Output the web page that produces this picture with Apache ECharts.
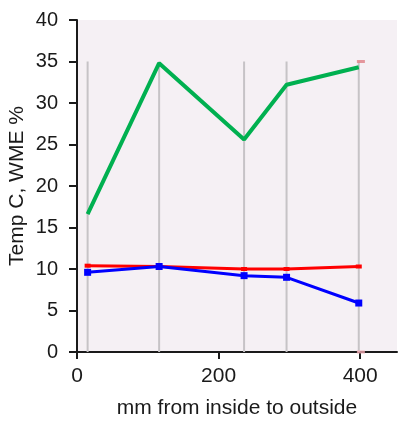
<!DOCTYPE html>
<html><head><meta charset="utf-8">
<script src="https://cdn.jsdelivr.net/npm/echarts@6/dist/echarts.min.js"></script>
<style>html,body{margin:0;padding:0;background:#fff}#c{width:399px;height:421px}</style>
</head><body><div id="c"></div>
<script>
const positions = [15, 116, 236, 296, 398];
const wme = [16.6, 34.8, 25.6, 32.2, 34.3];
const tempRed = [10.4, 10.3, 10.0, 10.0, 10.3];
const tempBlue = [9.6, 10.3, 9.2, 9.0, 5.9];
const dropTop = 35;
const endMarkX = 401;
const endMarks = [35, 0];
const xTicks = [0, 200, 400];

const chart = echarts.init(document.getElementById('c'));
const pairs = (ys) => positions.map((x, i) => [x, ys[i]]);
chart.setOption({
  animation: false,
  grid: { left: 77, top: 20, right: 2, bottom: 69, show: true, backgroundColor: '#f5f0f4', borderWidth: 0,
          containLabel: false, outerBoundsMode: 'none' },
  xAxis: {
    type: 'value', min: 0, max: 452, interval: 200,
    name: 'mm from inside to outside', nameLocation: 'middle', nameGap: 46, nameMoveOverlap: false,
    nameTextStyle: { fontFamily: 'Liberation Sans', fontSize: 21, color: '#1a1a1a' },
    axisLine: { show: true, onZero: false, lineStyle: { color: '#1a1a1a', width: 2 } },
    axisTick: { show: true, length: 7, customValues: xTicks, lineStyle: { color: '#1a1a1a', width: 2 } },
    axisLabel: { customValues: xTicks, fontFamily: 'Liberation Sans', fontSize: 21, color: '#1a1a1a', margin: 14 },
    splitLine: { show: false }
  },
  yAxis: {
    type: 'value', min: 0, max: 40, interval: 5,
    name: 'Temp C, WME %', nameLocation: 'middle', nameGap: 49, nameMoveOverlap: false,
    nameTextStyle: { fontFamily: 'Liberation Sans', fontSize: 21, color: '#1a1a1a' },
    axisLine: { show: true, lineStyle: { color: '#1a1a1a', width: 2 } },
    axisTick: { show: true, length: 8, lineStyle: { color: '#1a1a1a', width: 2 } },
    axisLabel: { fontFamily: 'Liberation Sans', fontSize: 20, color: '#1a1a1a', margin: 19 },
    splitLine: { show: false }
  },
  series: [
    {
      type: 'custom', silent: true, z: 1,
      data: positions.map(x => [x, dropTop]),
      renderItem: (params, api) => {
        const top = api.coord([api.value(0), api.value(1)]);
        const bot = api.coord([api.value(0), 0]);
        return { type: 'line', shape: { x1: top[0], y1: top[1], x2: bot[0], y2: bot[1] },
                 style: { stroke: '#c6c3c6', lineWidth: 2 } };
      }
    },
    {
      type: 'line', data: pairs(wme), symbol: 'none', z: 3,
      lineStyle: { color: '#00b050', width: 4 }
    },
    {
      type: 'line', data: pairs(tempRed), symbol: 'rect', symbolSize: [6, 4], z: 4,
      itemStyle: { color: '#ff0000' }, lineStyle: { color: '#ff0000', width: 3 }
    },
    {
      type: 'line', data: pairs(tempBlue), symbol: 'rect', symbolSize: 7, z: 5,
      itemStyle: { color: '#0000ff' }, lineStyle: { color: '#0000ff', width: 3 }
    },
    {
      type: 'scatter', symbol: 'rect', symbolSize: [8, 3], z: 6,
      data: endMarks.map((y, i) => ({ value: [endMarkX, y], itemStyle: { color: i === 0 ? '#e07f86' : '#f0a8b0' } }))
    }
  ]
});
</script></body></html>
